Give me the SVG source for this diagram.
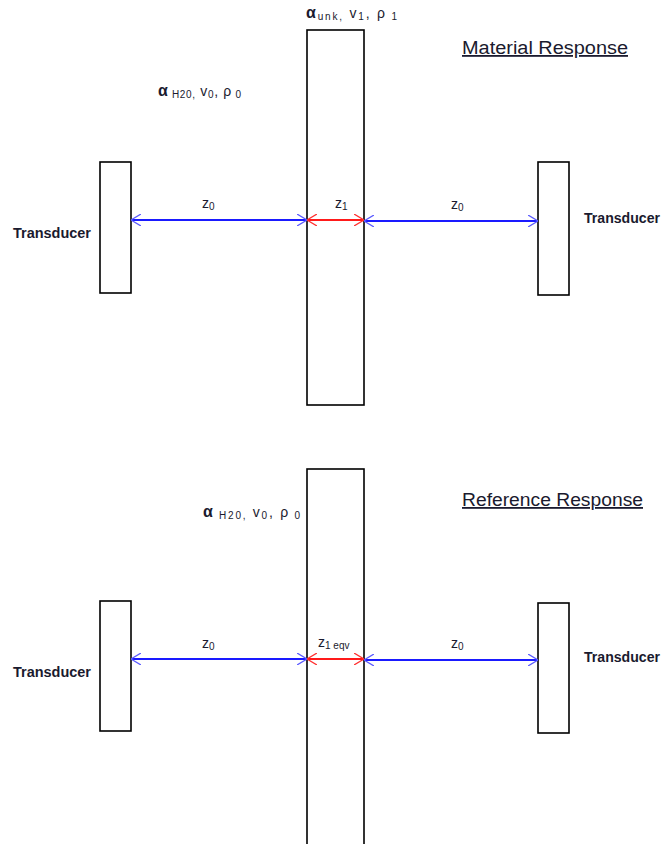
<svg xmlns="http://www.w3.org/2000/svg" width="662" height="844" viewBox="0 0 662 844">
<style>
.box{fill:#fff;stroke:#000;stroke-width:1.6}
.t{font-family:"Liberation Sans",Arial,sans-serif;fill:#1a1a2e}
.lbl{font-size:14px;font-weight:bold}
.title{font-size:18px;text-decoration:underline}
.sym{font-size:14px}
.sub{font-size:10px}
.blue{stroke:#1a1aff;stroke-width:1.8;fill:none}
.red{stroke:#ff1a1a;stroke-width:1.8;fill:none}
</style>
<defs>
<marker id="ab" viewBox="0 0 10 12" refX="10" refY="6" markerWidth="10" markerHeight="12" markerUnits="userSpaceOnUse" orient="auto-start-reverse">
<path d="M0,0 L10,6 L0,12" fill="none" stroke="#5a5aff" stroke-width="1.3"/>
</marker>
<marker id="ar" viewBox="0 0 10 12" refX="10" refY="6" markerWidth="10" markerHeight="12" markerUnits="userSpaceOnUse" orient="auto-start-reverse">
<path d="M0,0 L10,6 L0,12" fill="none" stroke="#ff3030" stroke-width="1.3"/>
</marker>
</defs>
<rect width="662" height="844" fill="#fff"/>

<!-- Top: Material Response -->
<g id="slab-top"><rect class="box" x="307" y="30" width="57" height="375"/></g>
<g id="transducer-top-left"><rect class="box" x="100" y="162" width="31" height="131"/>
<text class="t lbl" x="13" y="238" textLength="78" lengthAdjust="spacingAndGlyphs">Transducer</text></g>
<g id="transducer-top-right"><rect class="box" x="538" y="162" width="31" height="133"/>
<text class="t lbl" x="584" y="223" textLength="76" lengthAdjust="spacingAndGlyphs">Transducer</text></g>
<g id="title-top"><text class="t title" x="462" y="54" textLength="166" lengthAdjust="spacingAndGlyphs">Material Response</text></g>
<g id="props-top-slab"><text class="t sym" x="306" y="18" textLength="91"><tspan font-weight="bold" font-size="16">α</tspan><tspan class="sub" dy="2">unk,</tspan><tspan dy="-2">  v</tspan><tspan class="sub" dy="2">1</tspan><tspan dy="-2">,  ρ</tspan><tspan class="sub" dy="2"> 1</tspan></text></g>
<g id="props-top-water"><text class="t sym" x="158" y="96" textLength="83"><tspan font-weight="bold" font-size="16">α</tspan><tspan class="sub" dy="2"> H20,</tspan><tspan dy="-2"> v</tspan><tspan class="sub" dy="2">0</tspan><tspan dy="-2">,  ρ</tspan><tspan class="sub" dy="2"> 0</tspan></text></g>

<!-- Bottom: Reference Response -->
<g id="slab-bottom"><rect class="box" x="307" y="469" width="57" height="380"/></g>
<g id="transducer-bottom-left"><rect class="box" x="100" y="601" width="31" height="130"/>
<text class="t lbl" x="13" y="677" textLength="78" lengthAdjust="spacingAndGlyphs">Transducer</text></g>
<g id="transducer-bottom-right"><rect class="box" x="538" y="603" width="31" height="130"/>
<text class="t lbl" x="584" y="662" textLength="76" lengthAdjust="spacingAndGlyphs">Transducer</text></g>
<g id="title-bottom"><text class="t title" x="462" y="506" textLength="181" lengthAdjust="spacingAndGlyphs">Reference Response</text></g>
<g id="props-bottom-water"><text class="t sym" x="203" y="517" textLength="97"><tspan font-weight="bold" font-size="16">α</tspan><tspan class="sub" dy="2"> H20,</tspan><tspan dy="-2">  v</tspan><tspan class="sub" dy="2">0</tspan><tspan dy="-2">,  ρ</tspan><tspan class="sub" dy="2"> 0</tspan></text></g>

<g id="connectors">
<line class="blue" x1="131" y1="220" x2="307" y2="220" marker-start="url(#ab)" marker-end="url(#ab)"/>
<line class="red" x1="307" y1="220" x2="364" y2="220" marker-start="url(#ar)" marker-end="url(#ar)"/>
<line class="blue" x1="364" y1="221" x2="538" y2="221" marker-start="url(#ab)" marker-end="url(#ab)"/>
<text class="t sym" x="202" y="208">z<tspan class="sub" dy="2">0</tspan></text>
<text class="t sym" x="335" y="208">z<tspan class="sub" dy="2">1</tspan></text>
<text class="t sym" x="451" y="209">z<tspan class="sub" dy="2">0</tspan></text>

<line class="blue" x1="131" y1="659" x2="307" y2="659" marker-start="url(#ab)" marker-end="url(#ab)"/>
<line class="red" x1="307" y1="659" x2="364" y2="659" marker-start="url(#ar)" marker-end="url(#ar)"/>
<line class="blue" x1="364" y1="660" x2="538" y2="660" marker-start="url(#ab)" marker-end="url(#ab)"/>
<text class="t sym" x="202" y="648">z<tspan class="sub" dy="2">0</tspan></text>
<text class="t sym" x="318" y="647">z<tspan class="sub" dy="2">1 eqv</tspan></text>
<text class="t sym" x="451" y="648">z<tspan class="sub" dy="2">0</tspan></text>
</g>
</svg>
